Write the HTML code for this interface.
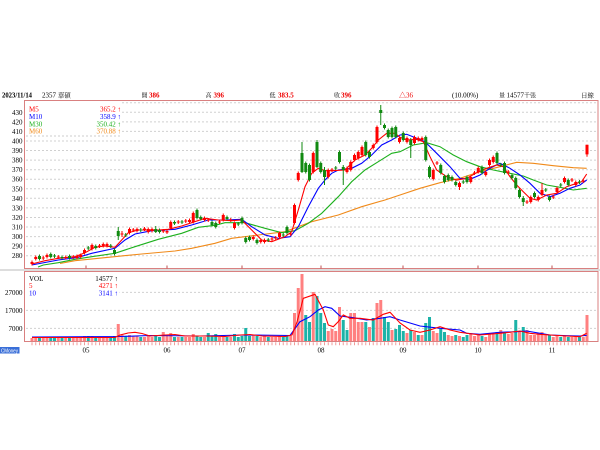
<!DOCTYPE html>
<html><head><meta charset="utf-8"><style>
html,body{margin:0;padding:0;background:#fff;}
svg{display:block;font-family:"Liberation Serif","Noto Serif CJK SC",serif;}
</style></head><body>
<svg width="600" height="450" viewBox="0 0 600 450" xmlns="http://www.w3.org/2000/svg">
<rect width="600" height="450" fill="#fff"/>
<defs><clipPath id="cp"><rect x="25" y="101" width="573" height="167"/></clipPath></defs>
<!-- header -->
<g font-size="7" fill="#000">
<text x="2" y="97.5" font-weight="bold" textLength="30" lengthAdjust="spacingAndGlyphs">2023/11/14</text>
<text x="42" y="97.5">2357 <tspan font-size="6.5">華碩</tspan></text>
<text x="141.5" y="97.5" font-size="6">開</text><text x="149" y="97.5" fill="#e00" font-weight="bold">386</text>
<text x="205.5" y="97.5" font-size="6">高</text><text x="213.5" y="97.5" fill="#e00" font-weight="bold">396</text>
<text x="269.5" y="97.5" font-size="6">低</text><text x="278" y="97.5" fill="#e00" font-weight="bold">383.5</text>
<text x="334" y="97.5" font-size="6">收</text><text x="341" y="97.5" fill="#e00" font-weight="bold">396</text>
<text x="399" y="97.5" fill="#e00">△36</text>
<text x="452" y="97.5">(10.00%)</text>
<text x="499" y="97.5" font-size="6">量</text><text x="506.5" y="97.5">14577<tspan font-size="6">千張</tspan></text>
<text x="581" y="97.5" font-size="6.5">日線</text>
</g>
<!-- separator -->
<rect x="0" y="269" width="600" height="2" fill="#ddd"/>
<!-- gridlines price -->
<g stroke="#d0d0d0" stroke-width="1" stroke-dasharray="2 2">
<path d="M26 102.7H597M26 112.3H597M26 121.9H597M26 131.4H597M26 141H597M26 150.5H597M26 160.1H597M26 169.7H597M26 179.2H597M26 188.8H597M26 198.3H597M26 207.9H597M26 217.5H597M26 227H597M26 236.6H597M26 246.1H597M26 255.7H597"/>
<path d="M26 292.4H597M26 310.4H597M26 328.4H597"/>
</g>
<!-- legend boxes -->
<rect x="25.5" y="101" width="96" height="35" fill="#fff"/>
<path d="M26 136H122" stroke="#ccc" stroke-dasharray="2 2"/>
<rect x="25.5" y="272" width="94" height="26" fill="#fff"/>
<!-- price axis labels -->
<g font-size="7" fill="#000" text-anchor="end">
<text x="22.5" y="114.8">430</text><text x="22.5" y="124.4">420</text><text x="22.5" y="133.9">410</text><text x="22.5" y="143.5">400</text><text x="22.5" y="153">390</text><text x="22.5" y="162.6">380</text><text x="22.5" y="172.2">370</text><text x="22.5" y="181.7">360</text><text x="22.5" y="191.3">350</text><text x="22.5" y="200.8">340</text><text x="22.5" y="210.4">330</text><text x="22.5" y="220">320</text><text x="22.5" y="229.5">310</text><text x="22.5" y="239.1">300</text><text x="22.5" y="248.6">290</text><text x="22.5" y="258.2">280</text>
<text x="22.5" y="294.8">27000</text><text x="22.5" y="312.8">17000</text><text x="22.5" y="330.8">7000</text>
</g>
<!-- legend text -->
<g font-size="7">
<text x="29" y="111.5" fill="#f00">M5</text><text x="121" y="111.5" fill="#f00" text-anchor="end">365.2 ↑</text>
<text x="29" y="118.9" fill="#00f">M10</text><text x="121" y="118.9" fill="#00f" text-anchor="end">358.9 ↑</text>
<text x="29" y="126.3" fill="#1db01d">M30</text><text x="121" y="126.3" fill="#1db01d" text-anchor="end">350.42 ↑</text>
<text x="29" y="133.7" fill="#f08a1a">M60</text><text x="121" y="133.7" fill="#f08a1a" text-anchor="end">370.88 ↑</text>
<text x="29" y="280.8" fill="#000">VOL</text><text x="118" y="280.8" fill="#000" text-anchor="end">14577 ↑</text>
<text x="29" y="288.2" fill="#f00">5</text><text x="118" y="288.2" fill="#f00" text-anchor="end">4271 ↑</text>
<text x="29" y="295.4" fill="#00f">10</text><text x="118" y="295.4" fill="#00f" text-anchor="end">3141 ↑</text>
</g>
<!-- price data -->
<g clip-path="url(#cp)" fill="none">
<polyline stroke="#f08a1a" stroke-width="1.1" points="60,263.5 75,260.7 108.3,257.3 141.7,254 175,251 191.7,248.3 215,243.3 231.7,238.3 258.3,235 285,231.7 311.7,221.7 338.3,215 361.7,206.7 385,200 400,195 420,188.3 440,182.7 460,178.3 480,171.7 500,166.7 516.7,162.3 533.3,163.3 553.3,165.7 573.3,167.7 586.7,168.3"/>
<polyline stroke="#1db01d" stroke-width="1.1" points="38,267 43.3,265 58.3,262.7 75,259.3 91.7,256.7 115,253.3 135,246.7 158.3,239.3 181.7,233.3 198.3,227.3 215,225.3 225,222.7 245,222.7 265,228.3 281.7,232.7 295,230.7 308.3,223.3 321.7,213.3 338.3,196.7 351.7,181.7 365,170 378.3,161.7 391.7,153.3 400,151.7 413.3,145 426.7,142.7 440,146.7 453.3,155 466.7,161.7 480,166.7 493.3,170 506.7,172.7 523.3,176 533.3,180 546.7,185 560,187.3 573.3,190 586.7,188.3"/>
<polyline stroke="#00f" stroke-width="1.1" points="31.7,265 58.3,260 78.3,257.3 91.7,253.3 115,248.3 125,240 135,234 151.7,230.7 175,229.3 191.7,225 208.3,220 225,220 241.7,219.3 251.7,226.7 265,235 278.3,238.3 290,236.7 298.3,226.7 308.3,206.7 318.3,188.3 325,180 331.7,173.3 338.3,170 351.7,168.3 361.7,163.3 371.7,155 381.7,145 391.7,140 400,135 406.7,134.3 416.7,138.3 425,141.7 436.7,153.3 450,166.7 460,178.3 470,179.3 480,175 490,168.3 500,163.3 510,168.3 520,175 530,183.3 540,193.3 550,196.7 560,193.3 570,188.3 580,185 586.7,180"/>
<polyline stroke="#f00" stroke-width="1.1" points="31.7,264 45,260.7 58.3,258.3 75,256.7 85,252.7 95,247.3 105,246 115,247.3 121.7,240 128.3,232.7 138.3,230 158.3,230 168.3,229.3 181.7,226 191.7,222.7 205,218.3 218.3,220 231.7,220.7 241.7,220 251.7,230 261.7,240 271.7,241.7 285,236.7 291.7,231.7 298.3,210 305,186.7 311.7,173.3 318.3,168.3 325,170.7 331.7,170.7 345,170 355,160 365,155 371.7,148.3 378.3,140 386.7,133.3 395,133.3 400,137.3 406.7,140 416.7,139.3 423.3,141.7 430,156.7 436.7,170 446.7,176.7 456.7,180 466.7,178.3 476.7,172.7 486.7,168.3 496.7,165 503.3,166.7 510,176.7 516.7,185 523.3,191.7 530,198.3 536.7,200 546.7,195 556.7,193.3 566.7,186.7 576.7,183.3 581.7,181.7 586.7,174"/>
<!-- red candles -->
<path stroke="#f00" stroke-width="1" d="M32 260.5V265.5M35.75 255.5V260.5M43.25 256V260M47 253.5V258.5M58.25 255V259M65.75 255.5V259.5M73.25 255V259M77 254.5V259.5M80.75 253.5V258.5M84.5 248.5V254.5M92 243.5V250.5M99.5 244V248M103.25 242.5V247.5M107 242.5V247.5M122 231V237M129.5 227.5V234.5M133.25 228V232M137 227.5V232.5M144.5 227V231M148.25 227.5V233.5M152 227.5V232.5M163.25 229V233M167 229.5V234M170.75 220.5V229.5M178.25 220V224M185.75 219V223M189.5 218.5V223.5M193.25 211.5V223.5M204.5 216.5V221.5M208.25 218V222M219.5 220V224M223.25 213.5V221.5M230.75 218V222M234.5 221.5V229.5M253.25 235.5V240.5M260.75 238.5V243.5M264.5 238.5V243.5M272 237V241M275.75 236V240M279.5 231.5V238.5M290.75 232V236M294.5 203.5V224.5M298.25 171.5V181.5M313.25 151.5V173.5M328.25 168.5V178.5M332 168V172M347 166.5V173.5M350.75 160.5V171.5M354.5 153.5V161.5M358.25 150.5V159.5M362 145.5V156.5M373.25 143.5V149.5M377 125.5V143.5M399.5 136.5V143.5M407 136.5V143.5M414.5 135.5V144.5M418.25 136.5V141.5M422 136.5V141.5M433.25 168.5V180.5M437 161V165M459.5 181.5V190M470.75 175.5V183.5M474.5 171V175M478.25 166.5V173.5M485.75 170.5V176.5M489.5 158.5V166.5M493.25 155.5V163.5M508.25 170V174M527 200V204M530.75 195.5V203.5M538.25 195.5V201.5M542 183V196M553.25 195V199M557 186.5V193.5M564.5 176.5V183.5M572 178V182M575.75 180.5V186.5M583.25 179V183M587 144.8V156.8"/>
<path stroke="#f00" stroke-width="3" d="M32 262V264M35.75 257V259M43.25 257.5V258.5M47 255V257M58.25 256.5V257.5M65.75 257V258M73.25 256.5V257.5M77 256V258M80.75 255V257M84.5 250V253M92 245V249M99.5 245.5V246.5M103.25 244V246M107 244V246M122 233.5V234.5M129.5 229V233M133.25 229.5V230.5M137 229V231M144.5 228.5V229.5M148.25 229V232M152 229V231M163.25 230.5V231.5M167 231V232.5M170.75 222V228M178.25 221.5V222.5M185.75 220.5V221.5M189.5 220V222M193.25 213V222M204.5 218V220M208.25 219.5V220.5M219.5 221.5V222.5M223.25 215V220M230.75 219.5V220.5M234.5 223V228M253.25 237V239M260.75 240V242M264.5 240V242M272 238.5V239.5M275.75 237.5V238.5M279.5 233V237M290.75 233.5V234.5M294.5 205V223M298.25 173V180M313.25 153V172M328.25 170V177M332 169.5V170.5M347 168V172M350.75 162V170M354.5 155V160M358.25 152V158M362 147V155M373.25 145V148M377 127V142M399.5 138V142M407 138V142M414.5 137V143M418.25 138V140M422 138V140M433.25 170V179M437 162.5V163.5M459.5 183V187M470.75 177V182M474.5 172.5V173.5M478.25 168V172M485.75 172V175M489.5 160V165M493.25 157V162M508.25 171.5V172.5M527 201.5V202.5M530.75 197V202M538.25 197V200M542 190V195M553.25 196.5V197.5M557 188V192M564.5 178V182M572 179.5V180.5M575.75 182V185M583.25 180.5V181.5M587 144.8V154.4"/>
<!-- green candles -->
<path stroke="#118a11" stroke-width="1" d="M39.5 254.5V260.5M50.75 252.5V258.5M54.5 254V258M62 255.5V259.5M69.5 254.5V259.5M88.25 246V250M95.75 244.5V249.5M110.75 244V248M114.5 248.5V255.5M118.25 227V240M125.75 233V237M140.75 228V232M155.75 226V233M159.5 228.5V233.5M174.5 220.5V225M182 220V224M197 208.5V219.5M200.75 215.5V220.5M212 220.5V226.5M215.75 221.5V228.5M227 215.5V220.5M238.25 222V226M242 216.5V224.5M245.75 236.5V243.5M249.5 235.5V241.5M257 238.5V244.5M268.25 238V242M283.25 233V237M287 225.5V234.5M302 142V173M305.75 161.5V173.5M309.5 163.5V181.5M317 140V168M320.75 161.5V173.5M324.5 167V185M335.75 166V170M339.5 150.5V163.5M343.25 165V185M365.75 140.5V156.5M369.5 150.5V158.5M380.75 105V125M384.5 123.5V129.5M388.25 128.5V138.5M392 126.5V138.5M395.75 125.5V138.5M403.25 131.5V141.5M410.75 138V158M425.75 135.5V161.5M429.5 165.5V178.5M440.75 163.5V174.5M444.5 174.5V183.5M448.25 173.5V181.5M452 175.5V181.5M455.75 180.5V186.5M463.25 180V184M467 175.5V183.5M482 165.5V174.5M497 151.5V164.5M500.75 163V167M504.5 161.5V174.5M512 173.5V179.5M515.75 176.5V189.5M519.5 188.5V198.5M523.25 196V206M534.5 191.5V198.5M545.75 188V192M549.5 195.5V201.5M560.75 183V187M568.25 178.5V186.5M579.5 180V184"/>
<path stroke="#118a11" stroke-width="3" d="M39.5 256V259M50.75 254V257M54.5 255.5V256.5M62 257V258M69.5 256V258M88.25 247.5V248.5M95.75 246V248M110.75 245.5V246.5M114.5 250V254M118.25 231V236M125.75 234.5V235.5M140.75 229.5V230.5M155.75 229V232M159.5 230V232M174.5 222V223.5M182 221.5V222.5M197 210V218M200.75 217V219M212 222V225M215.75 223V227M227 217V219M238.25 223.5V224.5M242 218V223M245.75 238V242M249.5 237V240M257 240V243M268.25 239.5V240.5M283.25 234.5V235.5M287 227V233M302 153V172M305.75 163V172M309.5 165V180M317 142V167M320.75 163V172M324.5 170V177M335.75 167.5V168.5M339.5 152V162M343.25 167V170M365.75 142V155M369.5 152V157M380.75 110V113M384.5 125V128M388.25 130V137M392 128V137M395.75 127V137M403.25 133V140M410.75 140V145M425.75 137V160M429.5 167V177M440.75 165V173M444.5 176V182M448.25 175V180M452 177V180M455.75 182V185M463.25 181.5V182.5M467 177V182M482 167V173M497 153V163M500.75 164.5V165.5M504.5 163V173M512 175V178M515.75 178V188M519.5 190V197M523.25 198V202M534.5 193V197M545.75 189.5V190.5M549.5 197V200M560.75 184.5V185.5M568.25 180V185M579.5 181.5V182.5"/>
</g>
<!-- volume bars -->
<path fill="none" stroke="#ff8080" stroke-width="3" d="M32 341v-3M35.75 341v-4M43.25 341v-3M47 341v-4M58.25 341v-3M65.75 341v-3M73.25 341v-3M77 341v-3M80.75 341v-4M84.5 341v-5M92 341v-5M99.5 341v-4M103.25 341v-4M107 341v-4M118.25 341v-17M122 341v-6M129.5 341v-6M133.25 341v-5M137 341v-5M144.5 341v-4M148.25 341v-5M152 341v-4M163.25 341v-9M167 341v-5M170.75 341v-8M178.25 341v-4M185.75 341v-4M189.5 341v-4M193.25 341v-7M204.5 341v-4M219.5 341v-4M223.25 341v-6M230.75 341v-4M253.25 341v-6M260.75 341v-4M264.5 341v-5M272 341v-4M275.75 341v-4M279.5 341v-5M290.75 341v-5M294.5 341v-28M298.25 341v-53M302 341v-67M313.25 341v-49M328.25 341v-10M332 341v-12M335.75 341v-10M339.5 341v-34M350.75 341v-28M354.5 341v-28M358.25 341v-19M362 341v-19M369.5 341v-14M377 341v-38M380.75 341v-41M392 341v-11M407 341v-8M414.5 341v-9M422 341v-6M433.25 341v-10M437 341v-8M448.25 341v-6M452 341v-5M459.5 341v-5M470.75 341v-7M474.5 341v-5M478.25 341v-6M485.75 341v-4M489.5 341v-8M493.25 341v-7M500.75 341v-11M508.25 341v-7M512 341v-8M519.5 341v-9M527 341v-11M530.75 341v-6M534.5 341v-6M538.25 341v-7M542 341v-9M545.75 341v-6M553.25 341v-4M557 341v-5M564.5 341v-5M572 341v-4M575.75 341v-5M583.25 341v-4M587 341v-26"/>
<path fill="none" stroke="#1cb3a8" stroke-width="3" d="M39.5 341v-3M50.75 341v-4M54.5 341v-3M62 341v-3M69.5 341v-4M88.25 341v-5M95.75 341v-4M110.75 341v-3M114.5 341v-5M125.75 341v-5M140.75 341v-4M155.75 341v-5M159.5 341v-4M174.5 341v-4M182 341v-4M197 341v-5M200.75 341v-4M208.25 341v-8M212 341v-5M215.75 341v-7M227 341v-4M234.5 341v-7M238.25 341v-4M242 341v-5M245.75 341v-13M249.5 341v-5M257 341v-5M268.25 341v-4M283.25 341v-4M287 341v-6M305.75 341v-26M309.5 341v-19M317 341v-45M320.75 341v-28M324.5 341v-18M343.25 341v-21M347 341v-11M365.75 341v-19M373.25 341v-23M384.5 341v-24M388.25 341v-19M395.75 341v-12M399.5 341v-16M403.25 341v-10M410.75 341v-11M418.25 341v-6M425.75 341v-18M429.5 341v-24M440.75 341v-12M444.5 341v-9M455.75 341v-6M463.25 341v-4M467 341v-6M482 341v-5M497 341v-9M504.5 341v-9M515.75 341v-21M523.25 341v-14M549.5 341v-6M560.75 341v-4M568.25 341v-4M579.5 341v-4"/>
<!-- volume MAs -->
<polyline fill="none" stroke="#00f" stroke-width="1.1" points="32,337 120,336.5 150,335.5 200,336 245,335 290,335.5 300,321.7 310,316.7 318.3,310 325,306.7 331.7,308.3 340,316 353.3,317.7 366.7,320 380,318.3 390,316.7 400,320 420,326 440,328.3 460,330 466.7,333.3 480,334.3 500,332.3 516.7,331.7 526.7,331 540,333.3 550,335 566.7,335.7 580,336 586.7,335.3"/>
<polyline fill="none" stroke="#f00" stroke-width="1.1" points="32,337.5 115,337.5 120,335 128,333 135,332.3 142,333.5 150,336 165,335 175,334.5 185,336 205,336 225,336.5 240,335 250,334.5 262,336 285,336.5 292,335 297,322 303.3,298.3 315,294.3 323.3,310 328.3,325 333.3,326.7 338.3,321.7 343.3,315 350,318.3 360,318.3 373.3,320 383.3,314.3 390,312.3 400,323 410,330 420,332.3 430,330 440,326.7 450,330 460,332.3 480,335 500,333.3 510,332.3 520,331 530,333.3 540,334.3 550,335 566.7,336 580,336.7 586.7,333.3"/>
<!-- frames -->
<rect x="24.5" y="100.5" width="573.5" height="168" fill="none" stroke="#d98080" stroke-width="1"/>
<rect x="24.5" y="271.5" width="573.5" height="70" fill="none" stroke="#d98080" stroke-width="1"/>
<path d="M86 265.5V268.5M167 265.5V268.5M242 265.5V268.5M321 265.5V268.5M403 265.5V268.5M478 265.5V268.5M552 265.5V268.5" stroke="#c05050" stroke-width="1"/>
<line x1="31.5" y1="343.8" x2="588" y2="343.8" stroke="#f29a9a" stroke-width="3" stroke-dasharray="1 2.75"/>
<!-- x labels -->
<g font-size="7" fill="#000" text-anchor="middle">
<text x="86" y="352.5">05</text><text x="167" y="352.5">06</text><text x="242" y="352.5">07</text><text x="321" y="352.5">08</text><text x="403" y="352.5">09</text><text x="478" y="352.5">10</text><text x="552" y="352.5">11</text>
</g>
<rect x="0" y="347" width="19.5" height="6.5" fill="#3a6fd8"/>
<text x="1" y="352.5" font-size="5.5" fill="#fff" textLength="17" lengthAdjust="spacingAndGlyphs" font-family="Liberation Sans, sans-serif">CMoney</text>
</svg>
</body></html>
